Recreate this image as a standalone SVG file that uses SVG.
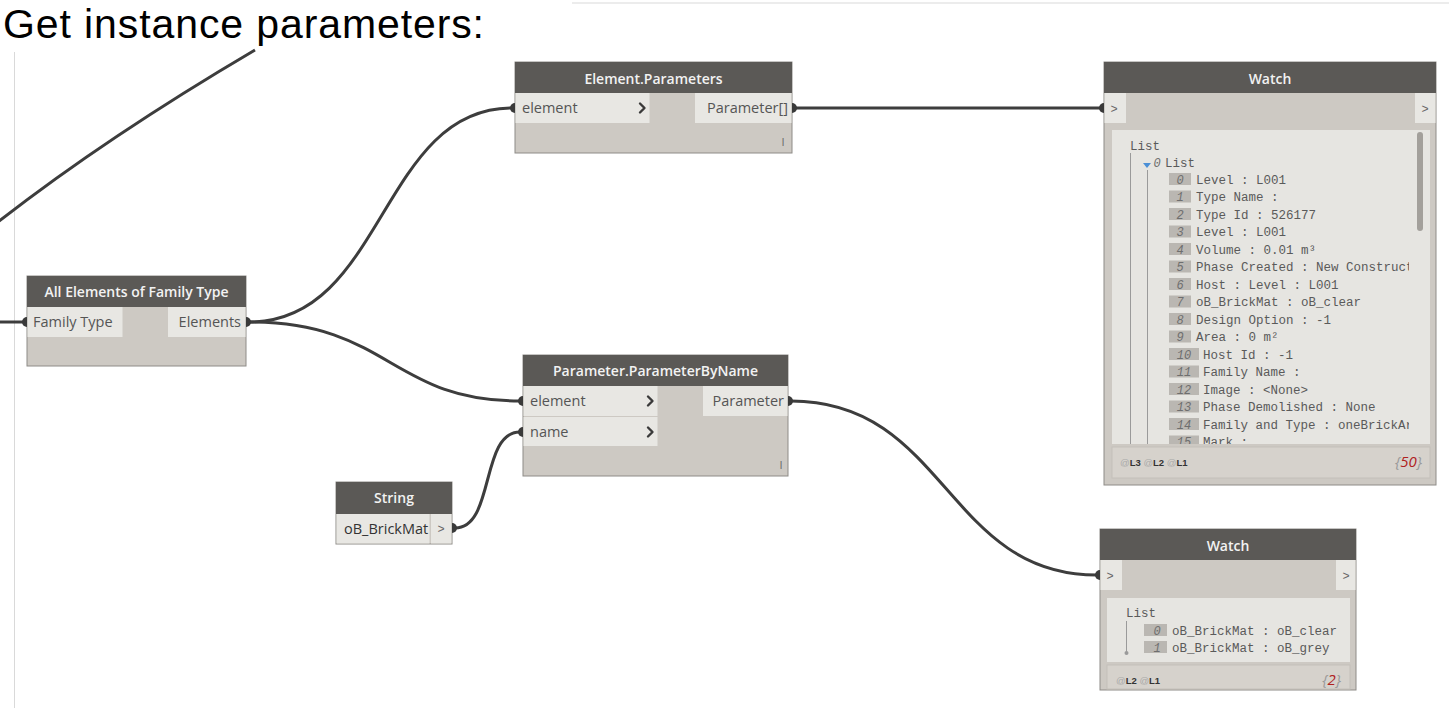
<svg xmlns="http://www.w3.org/2000/svg" width="1449" height="713" viewBox="0 0 1449 713">
<style>
.body{fill:#cdc9c3;stroke:#8e8b87;stroke-width:1}
.hdr{fill:#5b5956}
.htxt{font-family:"Open Sans","Liberation Sans",sans-serif;font-weight:600;font-size:14px;fill:#f2f2f2;text-anchor:middle}
.row{fill:#e8e7e3}
.ptxt{font-family:"Open Sans","Liberation Sans",sans-serif;font-size:14.5px;fill:#555}
.chev{fill:none;stroke:#3a3a3a;stroke-width:2.4;stroke-linecap:round;stroke-linejoin:round}
.lace{font-family:"Open Sans","Liberation Sans",sans-serif;font-size:11px;fill:#666}
.wire{fill:none;stroke:#3d3d3d;stroke-width:3}
.port{fill:#3a3a3a}
.cell{fill:#e8e7e3}
.gt{font-family:"Liberation Mono",monospace;font-size:12px;fill:#666;text-anchor:middle}
.list{fill:#e6e5e1}
.foot{fill:#d6d2cc;stroke:#c4c0ba;stroke-width:1}
.mono{font-family:"Liberation Mono","DejaVu Sans Mono",monospace;font-size:12.5px;fill:#5a5a5a}
.idx{fill:#bab7b2}
.itxt{font-family:"Liberation Mono","DejaVu Sans Mono",monospace;font-size:12px;font-style:italic;fill:#6e6e6e;text-anchor:middle}
.tree{stroke:#9a9a9a;stroke-width:1;fill:none}
.lv{font-family:"Liberation Sans",sans-serif;font-size:9.5px;font-weight:bold;fill:#333}
.lvat{fill:#aaa;font-weight:normal}
.cnt{font-family:"Open Sans","Liberation Sans",sans-serif;font-size:15px;font-style:italic;text-anchor:end;fill:#999}
.cntn{fill:#b0221f}
</style>
<defs>
<clipPath id="clipTop"><rect x="1112" y="130" width="297" height="314"/></clipPath>
</defs>

<rect x="0" y="0" width="1449" height="713" fill="#ffffff"/>
<line x1="572" y1="3" x2="1449" y2="3" stroke="#e6e6e6" stroke-width="1.5"/>
<line x1="14.5" y1="52" x2="14.5" y2="708" stroke="#d9d9d9" stroke-width="1"/>
<text x="3" y="37.5" font-family="Liberation Sans, Arial, sans-serif" font-size="41" textLength="481" lengthAdjust="spacing" fill="#000">Get instance parameters:</text>

<g id="connectors">
<path class="wire" d="M -2 222 C 80 158, 170 100, 255 50"/>
<path class="wire" d="M 0 322 L 24 322"/>
<path class="wire" d="M 249 322 C 385 322, 380 108, 512 108"/>
<path class="wire" d="M 249 322 C 390 322, 390 401, 520 401"/>
<path class="wire" d="M 455 528 C 495 528, 480 432, 520 432"/>
<path class="wire" d="M 795 108 C 950 108, 950 108, 1101 108"/>
<path class="wire" d="M 791 401 C 946 401, 946 575, 1097 575"/>
</g>

<g id="allElements">
<rect class="body" x="27" y="276" width="219" height="90"/>
<rect class="hdr" x="27" y="276" width="219" height="31"/>
<text class="htxt" x="136.5" y="297">All Elements of Family Type</text>
<rect class="row" x="27.5" y="307" width="95" height="30"/>
<text class="ptxt" x="33" y="327">Family Type</text>
<rect class="row" x="168" y="307" width="77.5" height="30"/>
<text class="ptxt" x="241" y="327" text-anchor="end">Elements</text>
<path class="port" d="M 27 317 a 5 5 0 0 0 0 10 z"/>
<path class="port" d="M 246 317 a 5 5 0 0 1 0 10 z"/>
</g>

<g id="elementParameters">
<rect class="body" x="515" y="62" width="277" height="91"/>
<rect class="hdr" x="515" y="62" width="277" height="31"/>
<text class="htxt" x="653.5" y="84">Element.Parameters</text>
<rect class="row" x="515.5" y="93" width="134" height="30"/>
<text class="ptxt" x="522" y="113">element</text>
<polyline class="chev" points="640,103.5 644.5,108 640,112.5"/>
<rect class="row" x="695" y="93" width="96.5" height="30"/>
<text class="ptxt" x="788" y="113" text-anchor="end">Parameter[]</text>
<text class="lace" x="783" y="146" text-anchor="middle">I</text>
<path class="port" d="M 515 103 a 5 5 0 0 0 0 10 z"/>
<path class="port" d="M 792 103 a 5 5 0 0 1 0 10 z"/>
</g>

<g id="parameterByName">
<rect class="body" x="523" y="355" width="265" height="121"/>
<rect class="hdr" x="523" y="355" width="265" height="31"/>
<text class="htxt" x="655.5" y="376">Parameter.ParameterByName</text>
<rect class="row" x="523.5" y="386" width="134" height="30"/>
<text class="ptxt" x="530" y="406">element</text>
<polyline class="chev" points="648,396.5 652.5,401 648,405.5"/>
<rect class="row" x="523.5" y="417" width="134" height="29"/>
<text class="ptxt" x="530" y="437">name</text>
<polyline class="chev" points="648,427.5 652.5,432 648,436.5"/>
<rect class="row" x="703" y="386" width="84.5" height="30"/>
<text class="ptxt" x="784" y="406" text-anchor="end">Parameter</text>
<text class="lace" x="781" y="469" text-anchor="middle">I</text>
<path class="port" d="M 523 396 a 5 5 0 0 0 0 10 z"/>
<path class="port" d="M 523 427 a 5 5 0 0 0 0 10 z"/>
<path class="port" d="M 788 396 a 5 5 0 0 1 0 10 z"/>
</g>

<g id="string">
<rect class="body" x="336" y="482" width="116" height="62"/>
<rect class="hdr" x="336" y="482" width="116" height="32"/>
<text class="htxt" x="394" y="503">String</text>
<rect class="row" x="336.5" y="514" width="93" height="29.5"/>
<text class="ptxt" x="344" y="534" style="fill:#333">oB_BrickMat</text>
<rect class="row" x="431" y="514" width="20.5" height="29.5"/>
<text class="gt" x="441" y="533">&gt;</text>
<path class="port" d="M 452 523 a 5 5 0 0 1 0 10 z"/>
</g>

<g id="watchTop">
<rect class="body" x="1104" y="62" width="332" height="423"/>
<rect class="hdr" x="1104" y="62" width="332" height="31"/>
<text class="htxt" x="1270" y="84">Watch</text>
<rect class="cell" x="1104.5" y="93" width="21.5" height="30"/>
<text class="gt" x="1114" y="113">&gt;</text>
<rect class="cell" x="1415" y="93" width="20.5" height="30"/>
<text class="gt" x="1425" y="113">&gt;</text>
<path class="port" d="M 1104 103 a 5 5 0 0 0 0 10 z"/>
<rect class="list" x="1112" y="130" width="318" height="314"/>
<rect x="1417" y="132" width="6" height="99" rx="3" fill="#a3a09b"/>
<line class="tree" x1="1130.5" y1="153" x2="1130.5" y2="444"/>
<line class="tree" x1="1147.5" y1="170" x2="1147.5" y2="444"/>
<g clip-path="url(#clipTop)">
<text class="mono" x="1130" y="150">List</text>
<polygon points="1143,163 1151,163 1147,168" fill="#4a8fd6"/>
<text class="itxt" x="1157" y="166.5">0</text>
<text class="mono" x="1165" y="166.5">List</text>

<rect class="idx" x="1169" y="173" width="22" height="12"/><text class="itxt" x="1180" y="183.5">0</text><text class="mono" x="1196" y="183.5">Level : L001</text>
<rect class="idx" x="1169" y="190.5" width="22" height="12"/><text class="itxt" x="1180" y="201">1</text><text class="mono" x="1196" y="201">Type Name :</text>
<rect class="idx" x="1169" y="208" width="22" height="12"/><text class="itxt" x="1180" y="218.5">2</text><text class="mono" x="1196" y="218.5">Type Id : 526177</text>
<rect class="idx" x="1169" y="225.5" width="22" height="12"/><text class="itxt" x="1180" y="236">3</text><text class="mono" x="1196" y="236">Level : L001</text>
<rect class="idx" x="1169" y="243" width="22" height="12"/><text class="itxt" x="1180" y="253.5">4</text><text class="mono" x="1196" y="253.5">Volume : 0.01 m³</text>
<rect class="idx" x="1169" y="260.5" width="22" height="12"/><text class="itxt" x="1180" y="271">5</text><text class="mono" x="1196" y="271">Phase Created : New Construct</text>
<rect class="idx" x="1169" y="278" width="22" height="12"/><text class="itxt" x="1180" y="288.5">6</text><text class="mono" x="1196" y="288.5">Host : Level : L001</text>
<rect class="idx" x="1169" y="295.5" width="22" height="12"/><text class="itxt" x="1180" y="306">7</text><text class="mono" x="1196" y="306">oB_BrickMat : oB_clear</text>
<rect class="idx" x="1169" y="313" width="22" height="12"/><text class="itxt" x="1180" y="323.5">8</text><text class="mono" x="1196" y="323.5">Design Option : -1</text>
<rect class="idx" x="1169" y="330.5" width="22" height="12"/><text class="itxt" x="1180" y="341">9</text><text class="mono" x="1196" y="341">Area : 0 m²</text>
<rect class="idx" x="1169" y="348" width="30" height="12"/><text class="itxt" x="1184" y="358.5">10</text><text class="mono" x="1203" y="358.5">Host Id : -1</text>
<rect class="idx" x="1169" y="365.5" width="30" height="12"/><text class="itxt" x="1184" y="376">11</text><text class="mono" x="1203" y="376">Family Name :</text>
<rect class="idx" x="1169" y="383" width="30" height="12"/><text class="itxt" x="1184" y="393.5">12</text><text class="mono" x="1203" y="393.5">Image : &lt;None&gt;</text>
<rect class="idx" x="1169" y="400.5" width="30" height="12"/><text class="itxt" x="1184" y="411">13</text><text class="mono" x="1203" y="411">Phase Demolished : None</text>
<rect class="idx" x="1169" y="418" width="30" height="12"/><text class="itxt" x="1184" y="428.5">14</text><text class="mono" x="1203" y="428.5">Family and Type : oneBrickAr</text>
<rect class="idx" x="1169" y="435.5" width="30" height="12"/><text class="itxt" x="1184" y="446">15</text><text class="mono" x="1203" y="446">Mark :</text>
</g>
<rect class="foot" x="1112" y="447" width="318" height="31"/>
<text class="lv" x="1120" y="466"><tspan class="lvat">@</tspan>L3 <tspan class="lvat">@</tspan>L2 <tspan class="lvat">@</tspan>L1</text>
<text class="cnt" x="1422" y="467">{<tspan class="cntn">50</tspan>}</text>
</g>

<g id="watchBottom">
<rect class="body" x="1100" y="529" width="256" height="161"/>
<rect class="hdr" x="1100" y="529" width="256" height="31"/>
<text class="htxt" x="1228" y="551">Watch</text>
<rect class="cell" x="1100.5" y="560" width="21.5" height="30"/>
<text class="gt" x="1110" y="580">&gt;</text>
<rect class="cell" x="1336" y="560" width="19.5" height="30"/>
<text class="gt" x="1346" y="580">&gt;</text>
<path class="port" d="M 1100 570 a 5 5 0 0 0 0 10 z"/>
<rect class="list" x="1107" y="598" width="243" height="64"/>
<text class="mono" x="1126" y="617">List</text>
<line class="tree" x1="1126.5" y1="621" x2="1126.5" y2="652"/>
<circle cx="1126.5" cy="653" r="2" fill="#9a9a9a"/>
<rect class="idx" x="1144" y="624" width="23" height="12"/><text class="itxt" x="1157" y="634.5">0</text><text class="mono" x="1172" y="634.5">oB_BrickMat : oB_clear</text>
<rect class="idx" x="1144" y="641" width="23" height="12"/><text class="itxt" x="1157" y="651.5">1</text><text class="mono" x="1172" y="651.5">oB_BrickMat : oB_grey</text>
<rect class="foot" x="1107" y="665" width="243" height="24"/>
<text class="lv" x="1116" y="684"><tspan class="lvat">@</tspan>L2 <tspan class="lvat">@</tspan>L1</text>
<text class="cnt" x="1341" y="685">{<tspan class="cntn">2</tspan>}</text>
</g>
</svg>
